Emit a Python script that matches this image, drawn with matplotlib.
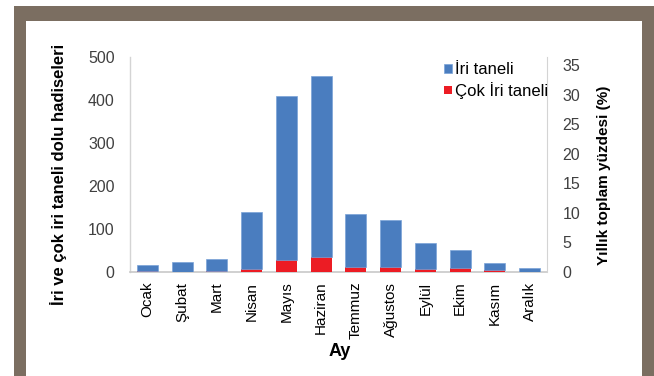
import matplotlib
matplotlib.use("Agg")
import matplotlib.pyplot as plt
from matplotlib.patches import Rectangle

# Monthly hail event counts
months = ["Ocak", "Şubat", "Mart", "Nisan", "Mayıs", "Haziran",
          "Temmuz", "Ağustos", "Eylül", "Ekim", "Kasım", "Aralık"]
cok_iri = [3, 1, 3, 6, 28, 34, 12, 12, 6, 9, 5, 0]
iri = [13, 23, 27, 133, 381, 422, 122, 109, 62, 42, 15, 10]

left_ticks = [0, 100, 200, 300, 400, 500]
right_ticks = [0, 5, 10, 15, 20, 25, 30, 35]

BLUE = "#4a7dbf"
RED = "#ec1c24"
FRAME = "#7b6e61"
TICK_GRAY = "#404040"
AXIS_GRAY = "#d4d4d4"

plt.rcParams["font.family"] = ["Liberation Sans", "DejaVu Sans"]

W, H = 654, 376
fig = plt.figure(figsize=(W / 100, H / 100), dpi=100)
fig.patch.set_facecolor("white")

# picture frame around the chart
def px_rect(x0, y0, x1, y1):
    fig.patches.append(Rectangle((x0 / W, 1 - y1 / H), (x1 - x0) / W, (y1 - y0) / H,
                                 transform=fig.transFigure, facecolor=FRAME,
                                 edgecolor="none", zorder=0))

px_rect(14, 6, 654, 21)
px_rect(14, 6, 26, 376)
px_rect(642, 6, 654, 376)

ax = fig.add_axes([130 / W, 1 - 272 / H, (547 - 130) / W, (272 - 57) / H])
ax.set_facecolor("none")
x = list(range(len(months)))
bars_red = ax.bar(x, cok_iri, width=0.6, color=RED, zorder=3, linewidth=0)
bars_blue = ax.bar(x, iri, bottom=cok_iri, width=0.6, color=BLUE, zorder=3,
                   edgecolor="#7aa3d8", linewidth=0.5)

ax.set_xlim(-0.5, len(months) - 0.5)
ax.set_ylim(0, 500)
ax.set_yticks(left_ticks)
ax.set_xticks(x)
ax.set_xticklabels(months, rotation=90, fontsize=11, color="black", va="top")
ax.tick_params(axis="x", length=0, pad=7)
ax.tick_params(axis="y", length=0, pad=11, labelsize=11.5, labelcolor=TICK_GRAY)
for side in ["top", "right"]:
    ax.spines[side].set_visible(False)
ax.spines["left"].set_color(AXIS_GRAY)
ax.spines["bottom"].set_color("#c8c8c8")
ax.spines["left"].set_linewidth(1)
ax.spines["bottom"].set_linewidth(1.2)

# secondary axis for the annual percentage scale
ax2 = ax.twinx()
ax2.set_ylim(0, 36.4)
ax2.set_yticks(right_ticks)
ax2.tick_params(axis="y", length=0, pad=11, labelsize=11.5, labelcolor=TICK_GRAY)
for side in ["top", "left", "bottom"]:
    ax2.spines[side].set_visible(False)
ax2.spines["right"].set_color(AXIS_GRAY)

fig.text(59 / W, 1 - 174 / H, "İri ve çok iri taneli dolu hadiseleri", rotation=90,
         ha="center", va="center", fontsize=12, fontweight="bold")
fig.text(604 / W, 1 - 175 / H, "Yıllık toplam yüzdesi (%)", rotation=90,
         ha="center", va="center", fontsize=11, fontweight="bold")
fig.text(340 / W, 1 - 352 / H, "Ay", ha="center", va="center",
         fontsize=13, fontweight="bold")

fig.legend([bars_blue, bars_red], ["İri taneli", "Çok İri taneli"],
           loc="upper left", bbox_to_anchor=(444 / W, 1 - 62 / H),
           frameon=False, fontsize=12, handlelength=0.45, handleheight=0.45,
           handletextpad=0.2, labelspacing=0.3, borderpad=0, borderaxespad=0)

fig.savefig("out.png", dpi=100, facecolor="white")
